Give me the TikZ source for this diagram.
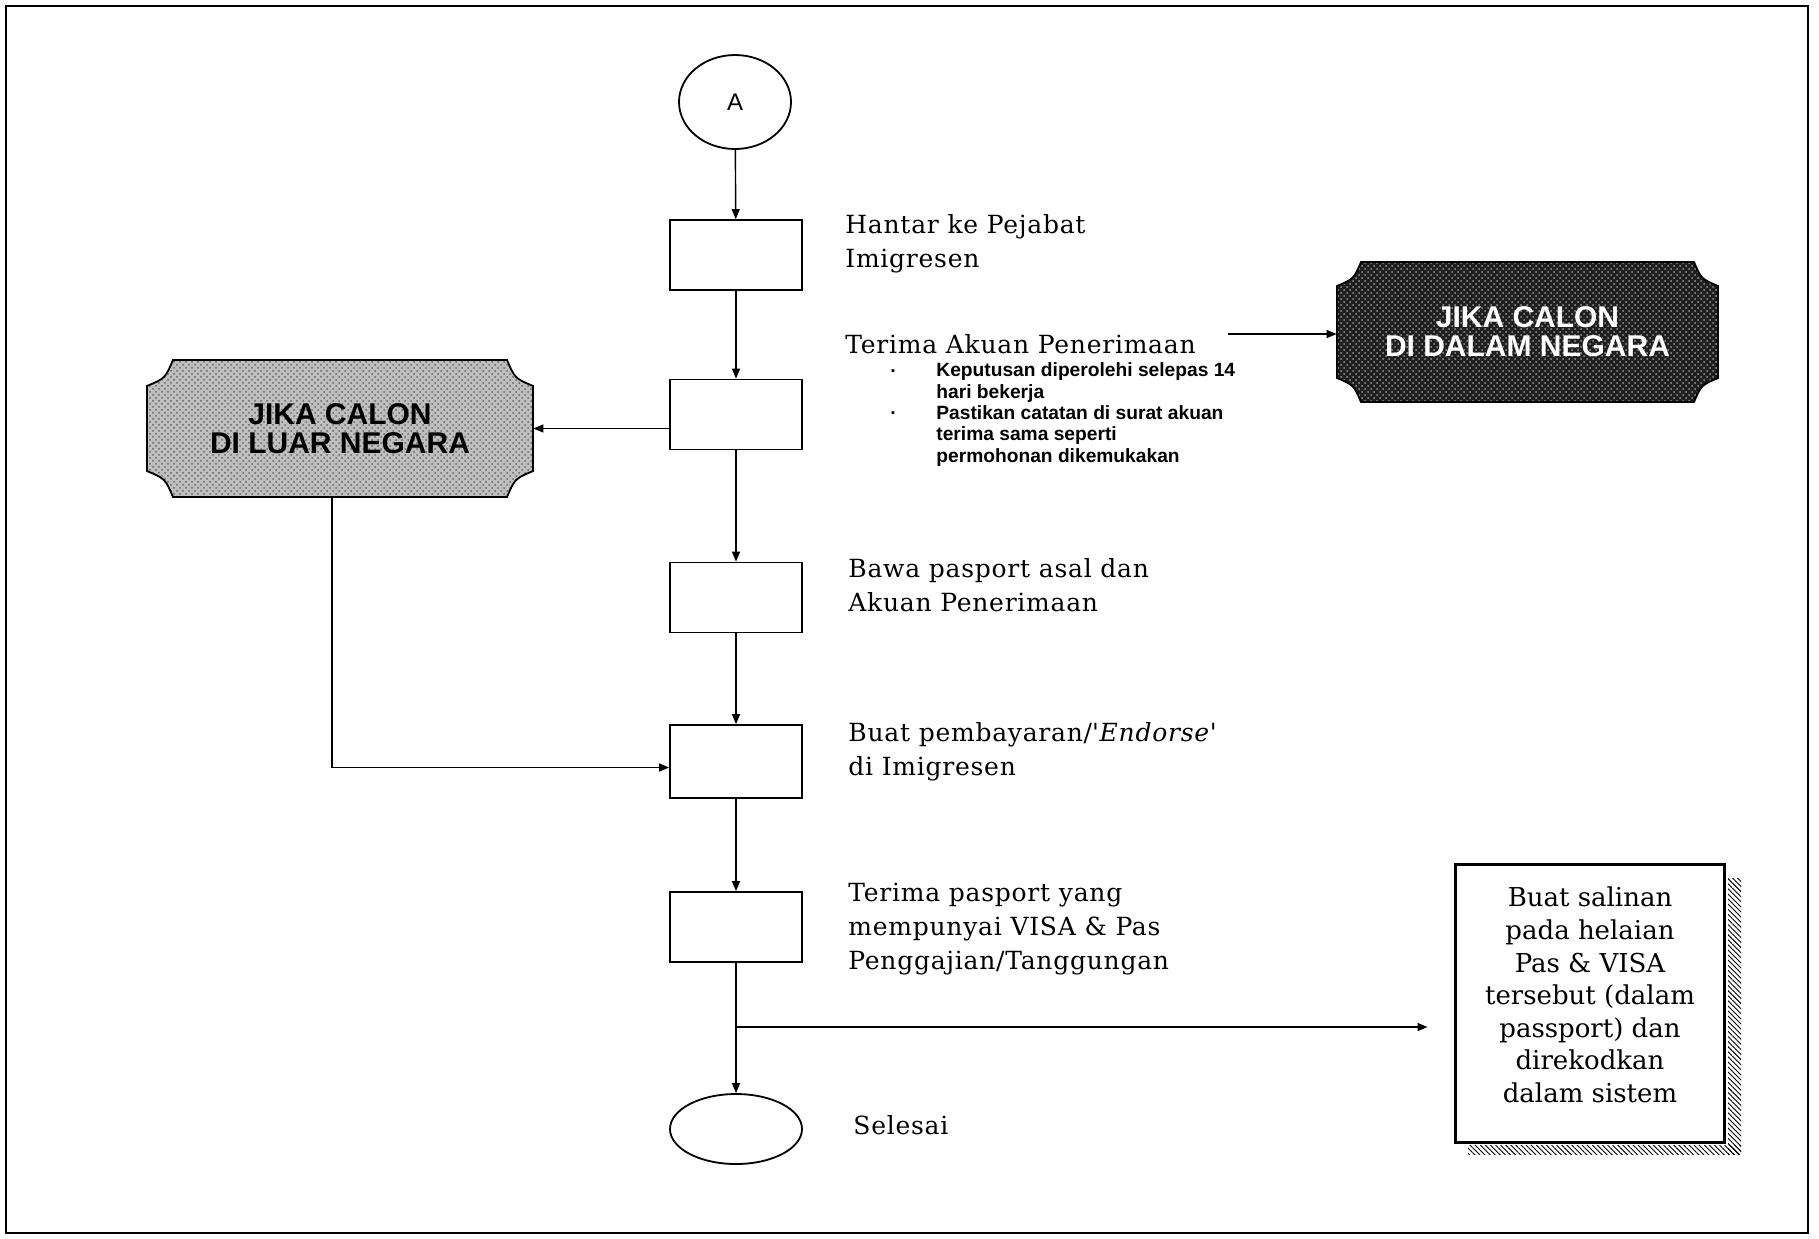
\documentclass[tikz,border=0pt]{standalone}
\usepackage{fontspec}
\usetikzlibrary{arrows.meta,patterns,patterns.meta,shapes.geometric}
\newfontfamily\lblfont{DejaVu Serif}
\newfontfamily\lblwide{DejaVu Serif}[LetterSpace=3]
\newfontfamily\sansf{Liberation Sans}
\newcommand\ticketpath[6]{%
  \path[#1] (#2+#6,#3) -- (#4-#6,#3) .. controls (#4-0.7*#6,#3+0.7*#6) .. (#4,#3+#6)
    -- (#4,#5-#6) .. controls (#4-0.7*#6,#5-0.7*#6) .. (#4-#6,#5)
    -- (#2+#6,#5) .. controls (#2+0.7*#6,#5-0.7*#6) .. (#2,#5-#6)
    -- (#2,#3+#6) .. controls (#2+0.7*#6,#3+0.7*#6) .. (#2+#6,#3) -- cycle;}
\begin{document}
\begin{tikzpicture}[x=0.5pt,y=-0.5pt,
  arr/.style={-{Triangle[length=5pt,width=4pt]}, line width=0.7pt},
  stepbox/.style={draw, line width=0.9pt, minimum width=66pt, minimum height=35pt, inner sep=0},
  oval/.style={draw, ellipse, line width=0.9pt, inner sep=0},
  lbl/.style={anchor=base west, align=left, inner sep=0, font=\lblwide\fontsize{12.5}{17}\selectfont},
  note/.style={anchor=base west, align=left, inner sep=0, font=\sansf\bfseries\fontsize{9.6}{10.6}\selectfont},
  deco/.style={align=center, inner sep=0, font=\sansf\bfseries\fontsize{15}{14.5}\selectfont},
]
\useasboundingbox (0,0) rectangle (1819,1238);
\draw[line width=1.1pt] (6,6) rectangle (1808,1233);

% main column
\node[oval, minimum width=56pt, minimum height=47pt] (A) at (735,102) {\sansf\fontsize{12}{14}\selectfont A};
\node[stepbox] (b1) at (736,255) {};
\node[stepbox] (b2) at (736,414.5) {};
\node[stepbox] (b3) at (736,597.5) {};
\node[stepbox, minimum height=36.5pt] (b4) at (736,761.5) {};
\node[stepbox] (b5) at (736,927) {};
\node[oval, minimum width=66pt, minimum height=35pt] (end) at (736,1129) {};

\draw[arr] (A) -- (b1);
\draw[arr] (b1) -- (b2);
\draw[arr] (b2) -- (b3);
\draw[arr] (b3) -- (b4);
\draw[arr] (b4) -- (b5);
\draw[arr] (b5) -- (end);

% labels (anchor on the baseline of the last line)
\node[lbl] (l1) at (845,267) {Hantar ke Pejabat\\Imigresen};
\node[lbl] (l2) at (845,353) {Terima Akuan Penerimaan};
\node[note] (d1) at (890,377) {·};
\node[note] (n1) at (936,398) {Keputusan diperolehi selepas 14\\hari bekerja};
\node[note] (d2) at (890,419.5) {·};
\node[note] (n2) at (936,462) {Pastikan catatan di surat akuan\\terima sama seperti\\permohonan dikemukakan};
\node[lbl] (l3) at (848,611) {Bawa pasport asal dan\\Akuan Penerimaan};
\node[lbl] (l4) at (848,775) {Buat pembayaran/\textit{'Endorse'}\\di Imigresen};
\node[lbl] (l5) at (848,969) {Terima pasport yang\\mempunyai VISA \& Pas\\Penggajian/Tanggungan};
\node[lbl] (l6) at (853,1134) {Selesai};

% left ticket: JIKA CALON DI LUAR NEGARA
\ticketpath{fill=black!25}{147}{360}{533}{497}{26}
\ticketpath{pattern=crosshatch dots, pattern color=black!60}{147}{360}{533}{497}{26}
\ticketpath{draw, line width=0.9pt}{147}{360}{533}{497}{26}
\node[deco, minimum width=193pt, minimum height=68.5pt] (luar) at (340,428.5) {JIKA CALON\\DI LUAR NEGARA};

% right ticket: JIKA CALON DI DALAM NEGARA
\ticketpath{fill=black!88}{1337}{262}{1718}{402}{24}
\ticketpath{pattern=crosshatch dots, pattern color=black!40}{1337}{262}{1718}{402}{24}
\ticketpath{draw, line width=0.9pt}{1337}{262}{1718}{402}{24}
\node[deco, text=white, minimum width=190.5pt, minimum height=70pt] (dalam) at (1527.5,332) {JIKA CALON\\DI DALAM NEGARA};

% right box with hatched shadow
\fill[pattern={Lines[angle=-45,distance=1.8pt,line width=0.45pt]}] (1728,878) rectangle (1741,1154);
\fill[pattern={Lines[angle=-45,distance=1.8pt,line width=0.45pt]}] (1468,1145) rectangle (1741,1154);
\node[draw, line width=1.5pt, fill=white, minimum width=134.5pt, minimum height=139pt, inner sep=0] (sal) at (1589.5,1003) {};
\node[align=center, inner sep=0, font=\lblfont\fontsize{13}{16.3}\selectfont] (salt) at (1590,995) {Buat salinan\\pada helaian\\Pas \& VISA\\tersebut (dalam\\passport) dan\\direkodkan\\dalam sistem};

% connectors
\draw[arr] (b2.west |- luar.east) -- (luar.east);
\draw[arr] ([xshift=-4pt]luar.south) |- ([yshift=-3pt]b4.west);
\coordinate (t1) at (1228,334);
\draw[arr] (t1) -- (t1 -| dalam.west);
\coordinate (br) at (736,1027);
\draw[arr, shorten >=13pt] (br) -- (br -| sal.west);
\end{tikzpicture}
\end{document}
